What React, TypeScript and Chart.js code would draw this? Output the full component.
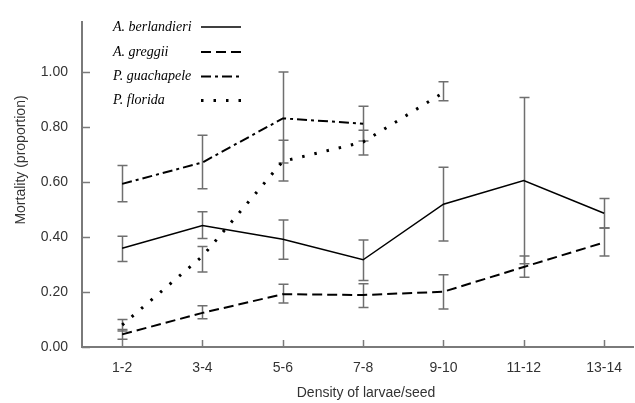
import React, { useEffect, useRef } from "react";
import { Chart, registerables } from "chart.js";

Chart.register(...registerables);

const categories = ["1-2", "3-4", "5-6", "7-8", "9-10", "11-12", "13-14"];
const yTickValues = [0, 0.2, 0.4, 0.6, 0.8, 1.0];

const berlandieri = [0.359, 0.442, 0.392, 0.317, 0.519, 0.605, 0.486];
const berlandieriHigh = [0.403, 0.492, 0.462, 0.389, 0.653, 0.907, 0.54];
const berlandieriLow = [0.311, 0.394, 0.319, 0.242, 0.385, 0.303, 0.433];

const greggii = [0.046, 0.124, 0.192, 0.189, 0.201, 0.291, 0.38];
const greggiiHigh = [0.064, 0.15, 0.228, 0.23, 0.263, 0.331, 0.433];
const greggiiLow = [0.028, 0.103, 0.16, 0.144, 0.138, 0.254, 0.331];

const guachapele = [0.593, 0.671, 0.831, 0.812, null, null, null];
const guachapeleHigh = [0.66, 0.77, 1.0, 0.875, null, null, null];
const guachapeleLow = [0.528, 0.575, 0.669, 0.749, null, null, null];

const florida = [0.08, 0.33, 0.675, 0.745, 0.925, null, null];
const floridaHigh = [0.1, 0.365, 0.752, 0.788, 0.964, null, null];
const floridaLow = [0.058, 0.273, 0.603, 0.698, 0.895, null, null];

const seriesNames = ["A. berlandieri", "A. greggii", "P. guachapele", "P. florida"];

const SANS = '"Liberation Sans", Arial, sans-serif';
const AXIS_GRAY = "#7a7a7a";
const ERR_GRAY = "#6f6f6f";

function toPoints(vals: (number | null)[]) {
  return vals.map((v, i) => ({ x: i + 1, y: v }));
}

const errorBarPlugin = {
  id: "errorBars",
  beforeDatasetsDraw(chart: any) {
    const { ctx, scales } = chart;
    const xs = scales.x;
    const ys = scales.y;
    ctx.save();
    ctx.strokeStyle = ERR_GRAY;
    ctx.lineWidth = 1.5;
    chart.data.datasets.forEach((ds: any) => {
      const hi = ds.errHigh as (number | null)[];
      const lo = ds.errLow as (number | null)[];
      hi.forEach((h, i) => {
        const l = lo[i];
        if (h == null || l == null) return;
        const px = Math.round(xs.getPixelForValue(i + 1)) + 0.5;
        const pyH = ys.getPixelForValue(h);
        const pyL = ys.getPixelForValue(l);
        ctx.beginPath();
        ctx.moveTo(px, pyH);
        ctx.lineTo(px, pyL);
        ctx.moveTo(px - 5, pyH);
        ctx.lineTo(px + 5, pyH);
        ctx.moveTo(px - 5, pyL);
        ctx.lineTo(px + 5, pyL);
        ctx.stroke();
      });
    });
    ctx.restore();
  },
};

const decorPlugin = {
  id: "decor",
  afterDraw(chart: any) {
    const { ctx, scales, chartArea } = chart;
    const xs = scales.x;
    const ys = scales.y;
    ctx.save();
    // inner tick marks
    ctx.strokeStyle = AXIS_GRAY;
    ctx.lineWidth = 1.5;
    ys.ticks.forEach((t: any) => {
      const py = Math.round(ys.getPixelForValue(t.value)) + 0.5;
      ctx.beginPath();
      ctx.moveTo(chartArea.left, py);
      ctx.lineTo(chartArea.left + 8, py);
      ctx.stroke();
    });
    xs.ticks.forEach((t: any) => {
      const px = Math.round(xs.getPixelForValue(t.value)) + 0.5;
      ctx.beginPath();
      ctx.moveTo(px, chartArea.bottom);
      ctx.lineTo(px, chartArea.bottom - 7);
      ctx.stroke();
    });
    // axis titles
    ctx.fillStyle = "#333333";
    ctx.font = `14px ${SANS}`;
    ctx.textAlign = "center";
    ctx.textBaseline = "middle";
    ctx.fillText("Density of larvae/seed", 366, 393);
    ctx.save();
    ctx.translate(21, 160);
    ctx.rotate(-Math.PI / 2);
    ctx.fillText("Mortality (proportion)", 0, 0);
    ctx.restore();
    // legend
    const rows = [27, 52, 76.5, 100.5];
    chart.data.datasets.forEach((ds: any, i: number) => {
      const y = rows[i];
      ctx.fillStyle = "#000000";
      ctx.font = `italic 14px "Liberation Serif", "Times New Roman", serif`;
      ctx.textAlign = "left";
      ctx.textBaseline = "middle";
      ctx.fillText(ds.label, 113, y);
      ctx.strokeStyle = ds.borderColor;
      ctx.lineWidth = ds.borderWidth;
      ctx.setLineDash(ds.borderDash || []);
      ctx.beginPath();
      ctx.moveTo(201, y);
      ctx.lineTo(241, y);
      ctx.stroke();
      ctx.setLineDash([]);
    });
    ctx.restore();
  },
};

export default function App() {
  const ref = useRef<HTMLCanvasElement | null>(null);
  useEffect(() => {
    if (!ref.current) return;
    const common = {
      borderColor: "#000000",
      pointRadius: 0,
      tension: 0,
      spanGaps: false,
      fill: false,
    };
    const chart = new Chart(ref.current, {
      type: "line",
      data: {
        datasets: [
          {
            ...common,
            label: seriesNames[0],
            data: toPoints(berlandieri),
            borderWidth: 1.5,
            borderDash: [],
            errHigh: berlandieriHigh,
            errLow: berlandieriLow,
          },
          {
            ...common,
            label: seriesNames[1],
            data: toPoints(greggii),
            borderWidth: 2,
            borderDash: [10, 5],
            errHigh: greggiiHigh,
            errLow: greggiiLow,
          },
          {
            ...common,
            label: seriesNames[2],
            data: toPoints(guachapele),
            borderWidth: 2,
            borderDash: [10, 4, 3, 4],
            errHigh: guachapeleHigh,
            errLow: guachapeleLow,
          },
          {
            ...common,
            label: seriesNames[3],
            data: toPoints(florida),
            borderWidth: 3,
            borderDash: [2.5, 10],
            errHigh: floridaHigh,
            errLow: floridaLow,
          },
        ] as any,
      },
      options: {
        animation: false,
        responsive: false,
        layout: { padding: { top: 18, right: 0, left: 0, bottom: 0 } },
        plugins: {
          legend: { display: false },
          tooltip: { enabled: false },
          title: { display: false },
        },
        scales: {
          x: {
            type: "linear",
            min: 0.5,
            max: 7.36,
            afterBuildTicks: (scale: any) => {
              scale.ticks = categories.map((_, i) => ({ value: i + 1 }));
            },
            afterFit: (scale: any) => {
              scale.height = 56;
            },
            grid: { display: true, drawOnChartArea: false, drawTicks: false },
            border: { display: true, color: AXIS_GRAY, width: 2 },
            ticks: {
              padding: 13,
              color: "#333333",
              font: { family: SANS, size: 14 },
              maxRotation: 0,
              autoSkip: false,
              callback: (v: any) => categories[Math.round(Number(v)) - 1] ?? "",
            },
          },
          y: {
            type: "linear",
            min: 0,
            max: 1.18,
            afterBuildTicks: (scale: any) => {
              scale.ticks = yTickValues.map((v) => ({ value: v }));
            },
            afterFit: (scale: any) => {
              scale.width = 82;
            },
            grid: { display: true, drawOnChartArea: false, drawTicks: false },
            border: { display: true, color: AXIS_GRAY, width: 2 },
            ticks: {
              padding: 14,
              color: "#333333",
              font: { family: SANS, size: 14 },
              callback: (v: any) => Number(v).toFixed(2),
            },
          },
        },
      } as any,
      plugins: [errorBarPlugin, decorPlugin],
    });
    return () => chart.destroy();
  }, []);
  return (
    <div style={{ position: "fixed", left: 0, top: 0, width: 635, height: 403, background: "#ffffff" }}>
      <canvas ref={ref} width={635} height={403} style={{ display: "block" }} />
    </div>
  );
}
